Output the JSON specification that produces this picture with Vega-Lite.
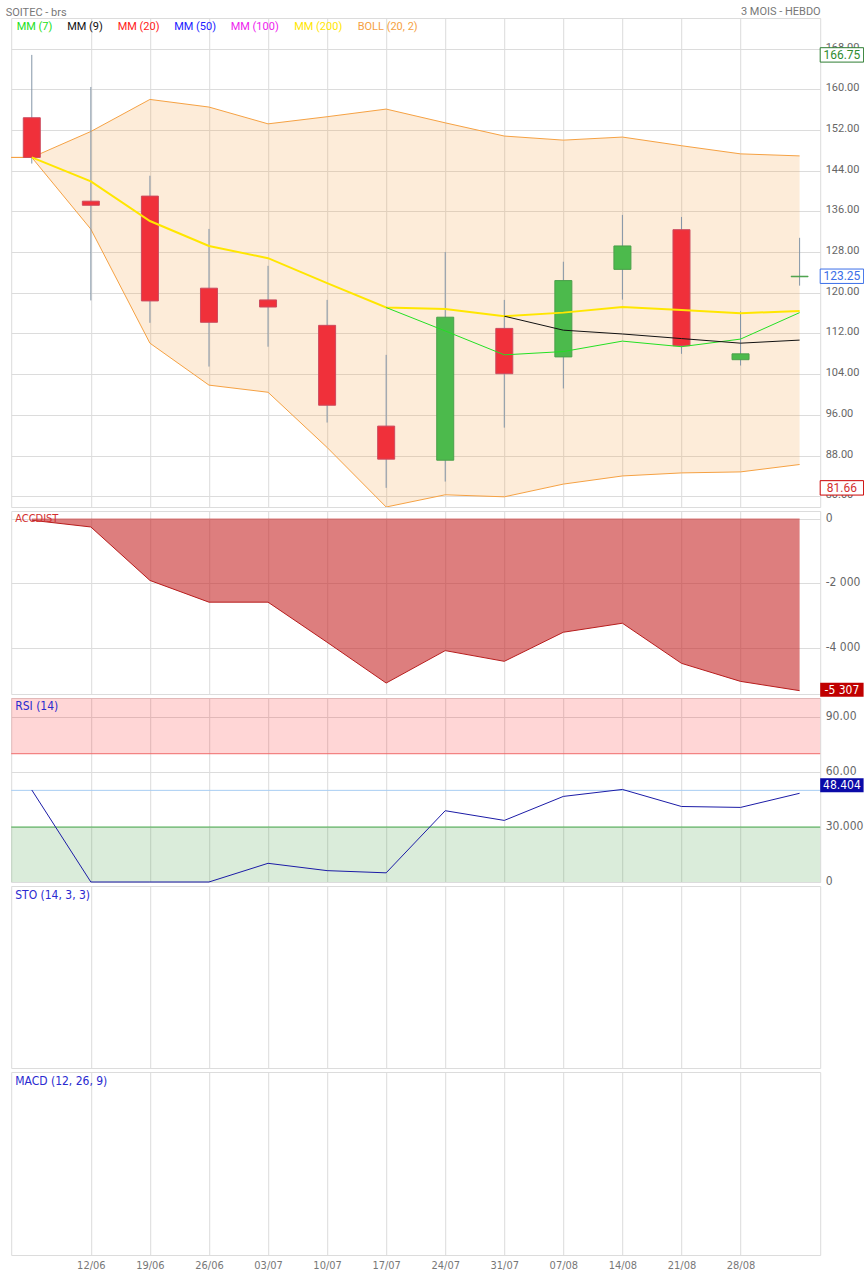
{
  "$schema": "https://vega.github.io/schema/vega-lite/v6.json",
  "background": "white",
  "padding": {"left": 5.2, "top": 4, "right": 0, "bottom": 0},
  "bounds": "flush",
  "title": {"text": "SOITEC - brs", "anchor": "start", "font": "Roboto", "fontSize": 11, "fontWeight": "normal", "color": "#777", "offset": -13},
  "spacing": 4,
  "config": {
    "view": {"stroke": "#dcdcdc"},
    "scale": {"continuousPadding": 0},
    "axis": {"gridColor": "#dcdcdc", "labelColor": "#666", "labelFont": "Roboto", "labelFontSize": 11, "ticks": false, "domain": false, "titleFont": "Roboto"}
  },
  "datasets": {
    "candles": [
      {"date": "2023-06-05", "open": 154.4, "high": 166.75, "low": 145.4, "close": 146.6},
      {"date": "2023-06-12", "open": 138.0, "high": 160.45, "low": 118.5, "close": 137.2},
      {"date": "2023-06-19", "open": 139.0, "high": 143.0, "low": 114.1, "close": 118.4},
      {"date": "2023-06-26", "open": 120.9, "high": 132.55, "low": 105.5, "close": 114.2},
      {"date": "2023-07-03", "open": 118.6, "high": 125.3, "low": 109.4, "close": 117.2},
      {"date": "2023-07-10", "open": 113.6, "high": 118.6, "low": 94.5, "close": 97.9},
      {"date": "2023-07-17", "open": 93.8, "high": 107.8, "low": 81.66, "close": 87.3},
      {"date": "2023-07-24", "open": 87.1, "high": 128.0, "low": 82.9, "close": 115.2},
      {"date": "2023-07-31", "open": 113.0, "high": 118.6, "low": 93.5, "close": 104.1},
      {"date": "2023-08-07", "open": 107.4, "high": 126.1, "low": 101.2, "close": 122.4},
      {"date": "2023-08-14", "open": 124.6, "high": 135.3, "low": 118.65, "close": 129.2},
      {"date": "2023-08-21", "open": 132.4, "high": 134.9, "low": 108.0, "close": 109.6},
      {"date": "2023-08-28", "open": 106.85, "high": 116.35, "low": 105.7, "close": 108.0},
      {"date": "2023-09-04", "open": 123.15, "high": 130.8, "low": 121.4, "close": 123.25}
    ],
    "band": [
      {"date": "2023-05-29", "upper": 146.6, "lower": 146.6},
      {"date": "2023-06-05", "upper": 146.6, "lower": 146.6},
      {"date": "2023-06-12", "upper": 151.7, "lower": 132.5},
      {"date": "2023-06-19", "upper": 158.0, "lower": 110.1},
      {"date": "2023-06-26", "upper": 156.5, "lower": 101.85},
      {"date": "2023-07-03", "upper": 153.2, "lower": 100.45},
      {"date": "2023-07-10", "upper": 154.6, "lower": 89.6},
      {"date": "2023-07-17", "upper": 156.1, "lower": 77.9},
      {"date": "2023-07-24", "upper": 153.4, "lower": 80.3},
      {"date": "2023-07-31", "upper": 150.8, "lower": 79.9},
      {"date": "2023-08-07", "upper": 150.0, "lower": 82.4},
      {"date": "2023-08-14", "upper": 150.6, "lower": 84.0},
      {"date": "2023-08-21", "upper": 148.9, "lower": 84.6},
      {"date": "2023-08-28", "upper": 147.3, "lower": 84.8},
      {"date": "2023-09-04", "upper": 146.9, "lower": 86.25}
    ],
    "ma": [
      {"date": "2023-06-05", "series": "MM (200)", "value": 146.6},
      {"date": "2023-06-12", "series": "MM (200)", "value": 141.9},
      {"date": "2023-06-19", "series": "MM (200)", "value": 134.1},
      {"date": "2023-06-26", "series": "MM (200)", "value": 129.2},
      {"date": "2023-07-03", "series": "MM (200)", "value": 126.8},
      {"date": "2023-07-10", "series": "MM (200)", "value": 121.9},
      {"date": "2023-07-17", "series": "MM (200)", "value": 117.1},
      {"date": "2023-07-24", "series": "MM (200)", "value": 116.8},
      {"date": "2023-07-31", "series": "MM (200)", "value": 115.4},
      {"date": "2023-08-07", "series": "MM (200)", "value": 116.1},
      {"date": "2023-08-14", "series": "MM (200)", "value": 117.2},
      {"date": "2023-08-21", "series": "MM (200)", "value": 116.6},
      {"date": "2023-08-28", "series": "MM (200)", "value": 116.0},
      {"date": "2023-09-04", "series": "MM (200)", "value": 116.4},
      {"date": "2023-07-17", "series": "MM (7)", "value": 117.1},
      {"date": "2023-07-24", "series": "MM (7)", "value": 112.5},
      {"date": "2023-07-31", "series": "MM (7)", "value": 107.8},
      {"date": "2023-08-07", "series": "MM (7)", "value": 108.45},
      {"date": "2023-08-14", "series": "MM (7)", "value": 110.5},
      {"date": "2023-08-21", "series": "MM (7)", "value": 109.4},
      {"date": "2023-08-28", "series": "MM (7)", "value": 110.9},
      {"date": "2023-09-04", "series": "MM (7)", "value": 116.1},
      {"date": "2023-07-31", "series": "MM (9)", "value": 115.4},
      {"date": "2023-08-07", "series": "MM (9)", "value": 112.65},
      {"date": "2023-08-14", "series": "MM (9)", "value": 111.9},
      {"date": "2023-08-21", "series": "MM (9)", "value": 111.0},
      {"date": "2023-08-28", "series": "MM (9)", "value": 110.1},
      {"date": "2023-09-04", "series": "MM (9)", "value": 110.7}
    ],
    "mainLabels": [
      {"value": 166.75, "label": "166.75", "kind": "high"},
      {"value": 123.25, "label": "123.25", "kind": "last"},
      {"value": 81.66, "label": "81.66", "kind": "low"}
    ],
    "acc": [
      {"date": "2023-06-05", "acc": -50},
      {"date": "2023-06-12", "acc": -258},
      {"date": "2023-06-19", "acc": -1907},
      {"date": "2023-06-26", "acc": -2577},
      {"date": "2023-07-03", "acc": -2577},
      {"date": "2023-07-10", "acc": -3814},
      {"date": "2023-07-17", "acc": -5072},
      {"date": "2023-07-24", "acc": -4072},
      {"date": "2023-07-31", "acc": -4402},
      {"date": "2023-08-07", "acc": -3505},
      {"date": "2023-08-14", "acc": -3227},
      {"date": "2023-08-21", "acc": -4464},
      {"date": "2023-08-28", "acc": -5021},
      {"date": "2023-09-04", "acc": -5307}
    ],
    "accLabel": [{"value": -5307, "label": "-5 307"}],
    "rsi": [
      {"date": "2023-06-05", "rsi": 50.2},
      {"date": "2023-06-12", "rsi": 0},
      {"date": "2023-06-19", "rsi": 0},
      {"date": "2023-06-26", "rsi": 0},
      {"date": "2023-07-03", "rsi": 10.2},
      {"date": "2023-07-10", "rsi": 6.2},
      {"date": "2023-07-17", "rsi": 5.0},
      {"date": "2023-07-24", "rsi": 38.9},
      {"date": "2023-07-31", "rsi": 33.6},
      {"date": "2023-08-07", "rsi": 46.7},
      {"date": "2023-08-14", "rsi": 50.5},
      {"date": "2023-08-21", "rsi": 41.2},
      {"date": "2023-08-28", "rsi": 40.7},
      {"date": "2023-09-04", "rsi": 48.404}
    ],
    "rsiLabel": [{"value": 48.404, "label": "48.404"}],
    "rsiZones": [
      {"zone": "overbought", "lo": 70, "hi": 100.4},
      {"zone": "oversold", "lo": 0, "hi": 30}
    ],
    "rsiLevels": [
      {"level": 70, "kind": "overbought"},
      {"level": 30, "kind": "oversold"},
      {"level": 50, "kind": "mid"}
    ],
    "empty": []
  },
  "vconcat": [
    {
      "width": 809,
      "height": 489,
      "layer": [
        {
          "data": {"name": "band"},
          "mark": {"type": "area", "color": "#f5a142", "opacity": 0.2, "clip": true},
          "encoding": {
            "x": {"field": "date", "type": "temporal", "scale": {"type": "utc", "padding": 0, "domain": [{"year": 2023, "month": 6, "date": 2, "hours": 13, "minutes": 26, "utc": true}, {"year": 2023, "month": 9, "date": 6, "hours": 10, "minutes": 34, "utc": true}]},
              "axis": {"orient": "top", "values": [{"year": 2023, "month": 6, "date": 12, "utc": true}, {"year": 2023, "month": 6, "date": 19, "utc": true}, {"year": 2023, "month": 6, "date": 26, "utc": true}, {"year": 2023, "month": 7, "date": 3, "utc": true}, {"year": 2023, "month": 7, "date": 10, "utc": true}, {"year": 2023, "month": 7, "date": 17, "utc": true}, {"year": 2023, "month": 7, "date": 24, "utc": true}, {"year": 2023, "month": 7, "date": 31, "utc": true}, {"year": 2023, "month": 8, "date": 7, "utc": true}, {"year": 2023, "month": 8, "date": 14, "utc": true}, {"year": 2023, "month": 8, "date": 21, "utc": true}, {"year": 2023, "month": 8, "date": 28, "utc": true}],
                "labels": false, "grid": true, "title": "3 MOIS - HEBDO", "titleAnchor": "end", "titleFontSize": 11, "titleFontWeight": "normal", "titleColor": "#777", "titlePadding": 2}},
            "y": {"field": "upper", "type": "quantitative", "scale": {"domain": [77.9, 174.0], "nice": false, "zero": false},
              "axis": {"orient": "right", "values": [80, 88, 96, 104, 112, 120, 128, 136, 144, 152, 160, 168], "format": ".2f", "grid": true, "labelPadding": 5, "labelOffset": -1.5, "title": null}},
            "y2": {"field": "lower"}
          }
        },
        {
          "data": {"name": "band"},
          "mark": {"type": "line", "color": "#f5a142", "strokeWidth": 1, "clip": true},
          "encoding": {
            "x": {"field": "date", "type": "temporal", "scale": {"type": "utc", "padding": 0, "domain": [{"year": 2023, "month": 6, "date": 2, "hours": 13, "minutes": 26, "utc": true}, {"year": 2023, "month": 9, "date": 6, "hours": 10, "minutes": 34, "utc": true}]}},
            "y": {"field": "upper", "type": "quantitative", "scale": {"domain": [77.9, 174.0], "nice": false, "zero": false}}
          }
        },
        {
          "data": {"name": "band"},
          "mark": {"type": "line", "color": "#f5a142", "strokeWidth": 1, "clip": true},
          "encoding": {
            "x": {"field": "date", "type": "temporal", "scale": {"type": "utc", "padding": 0, "domain": [{"year": 2023, "month": 6, "date": 2, "hours": 13, "minutes": 26, "utc": true}, {"year": 2023, "month": 9, "date": 6, "hours": 10, "minutes": 34, "utc": true}]}},
            "y": {"field": "lower", "type": "quantitative", "scale": {"domain": [77.9, 174.0], "nice": false, "zero": false}}
          }
        },
        {
          "data": {"name": "candles"},
          "mark": {"type": "rule", "color": "#8395a7", "strokeWidth": 1},
          "encoding": {
            "x": {"field": "date", "type": "temporal", "scale": {"type": "utc", "padding": 0, "domain": [{"year": 2023, "month": 6, "date": 2, "hours": 13, "minutes": 26, "utc": true}, {"year": 2023, "month": 9, "date": 6, "hours": 10, "minutes": 34, "utc": true}]}},
            "y": {"field": "low", "type": "quantitative", "scale": {"domain": [77.9, 174.0], "nice": false, "zero": false}},
            "y2": {"field": "high"}
          }
        },
        {
          "data": {"name": "candles"},
          "mark": {"type": "bar", "width": 17, "strokeWidth": 1},
          "encoding": {
            "x": {"field": "date", "type": "temporal", "scale": {"type": "utc", "padding": 0, "domain": [{"year": 2023, "month": 6, "date": 2, "hours": 13, "minutes": 26, "utc": true}, {"year": 2023, "month": 9, "date": 6, "hours": 10, "minutes": 34, "utc": true}]}},
            "y": {"field": "open", "type": "quantitative", "scale": {"domain": [77.9, 174.0], "nice": false, "zero": false}},
            "y2": {"field": "close"},
            "fill": {"condition": {"test": "datum.close >= datum.open", "value": "#4cba4c"}, "value": "#f0303a"},
            "stroke": {"condition": {"test": "datum.close >= datum.open", "value": "#4aa04a"}, "value": "#cc4a5e"}
          }
        },
        {
          "data": {"name": "ma"},
          "mark": {"type": "line", "clip": true},
          "encoding": {
            "x": {"field": "date", "type": "temporal", "scale": {"type": "utc", "padding": 0, "domain": [{"year": 2023, "month": 6, "date": 2, "hours": 13, "minutes": 26, "utc": true}, {"year": 2023, "month": 9, "date": 6, "hours": 10, "minutes": 34, "utc": true}]}},
            "y": {"field": "value", "type": "quantitative", "scale": {"domain": [77.9, 174.0], "nice": false, "zero": false}},
            "color": {"field": "series", "type": "nominal",
              "scale": {"domain": ["MM (7)", "MM (9)", "MM (20)", "MM (50)", "MM (100)", "MM (200)", "BOLL (20, 2)"], "range": ["#22e022", "#111111", "#ff2020", "#2020ff", "#ee22ee", "#ffe600", "#f5a142"]},
              "legend": {"orient": "none", "legendX": -5.5, "legendY": 3, "direction": "horizontal", "title": null, "symbolSize": 0, "symbolStrokeWidth": 0, "symbolOpacity": 0, "labelOffset": 0, "columnPadding": 3.5, "labelFont": "Roboto", "labelFontSize": 11,
                "encode": {"labels": {"update": {"fill": {"scale": "color", "field": "value"}}}}}},
            "strokeWidth": {"condition": {"test": "datum.series === 'MM (200)'", "value": 2}, "value": 1}
          }
        },
        {
          "data": {"name": "mainLabels"},
          "mark": {"type": "rect", "fill": "white", "strokeWidth": 1, "xOffset": 20.6, "x2Offset": 64, "yOffset": -7.2, "y2Offset": 7.2},
          "encoding": {
            "x": {"datum": {"year": 2023, "month": 9, "date": 4, "utc": true}, "type": "temporal", "scale": {"type": "utc", "padding": 0, "domain": [{"year": 2023, "month": 6, "date": 2, "hours": 13, "minutes": 26, "utc": true}, {"year": 2023, "month": 9, "date": 6, "hours": 10, "minutes": 34, "utc": true}]}},
            "x2": {"datum": {"year": 2023, "month": 9, "date": 4, "utc": true}},
            "y": {"field": "value", "type": "quantitative", "scale": {"domain": [77.9, 174.0], "nice": false, "zero": false}},
            "y2": {"field": "value"},
            "stroke": {"condition": [{"test": "datum.kind === 'high'", "value": "#2e7d32"}, {"test": "datum.kind === 'last'", "value": "#3a6ee8"}], "value": "#cc0000"}
          }
        },
        {
          "data": {"name": "mainLabels"},
          "mark": {"type": "text", "dx": 42.3, "align": "center", "baseline": "middle", "font": "Roboto", "fontSize": 12},
          "encoding": {
            "x": {"datum": {"year": 2023, "month": 9, "date": 4, "utc": true}, "type": "temporal", "scale": {"type": "utc", "padding": 0, "domain": [{"year": 2023, "month": 6, "date": 2, "hours": 13, "minutes": 26, "utc": true}, {"year": 2023, "month": 9, "date": 6, "hours": 10, "minutes": 34, "utc": true}]}},
            "y": {"field": "value", "type": "quantitative", "scale": {"domain": [77.9, 174.0], "nice": false, "zero": false}},
            "text": {"field": "label"},
            "fill": {"condition": [{"test": "datum.kind === 'high'", "value": "#2e8b2e"}, {"test": "datum.kind === 'last'", "value": "#3a6ee8"}], "value": "#d32f2f"}
          }
        }
      ]
    },
    {
      "width": 809,
      "height": 183,
      "title": {"text": "ACCDIST", "anchor": "start", "frame": "group", "orient": "top", "offset": -13, "baseline": "top", "dx": 4, "color": "#d32f2f", "fontSize": 11, "fontWeight": "normal", "font": "Liberation Sans Narrow, DejaVu Sans Condensed, Roboto"},
      "layer": [
        {
          "data": {"name": "acc"},
          "mark": {"type": "area", "fill": "#c62828", "fillOpacity": 0.6, "line": {"color": "#b71c1c", "strokeWidth": 1}},
          "encoding": {
            "x": {"field": "date", "type": "temporal", "scale": {"type": "utc", "domain": [{"year": 2023, "month": 6, "date": 2, "hours": 13, "minutes": 26, "utc": true}, {"year": 2023, "month": 9, "date": 6, "hours": 10, "minutes": 34, "utc": true}]},
              "axis": {"values": [{"year": 2023, "month": 6, "date": 12, "utc": true}, {"year": 2023, "month": 6, "date": 19, "utc": true}, {"year": 2023, "month": 6, "date": 26, "utc": true}, {"year": 2023, "month": 7, "date": 3, "utc": true}, {"year": 2023, "month": 7, "date": 10, "utc": true}, {"year": 2023, "month": 7, "date": 17, "utc": true}, {"year": 2023, "month": 7, "date": 24, "utc": true}, {"year": 2023, "month": 7, "date": 31, "utc": true}, {"year": 2023, "month": 8, "date": 7, "utc": true}, {"year": 2023, "month": 8, "date": 14, "utc": true}, {"year": 2023, "month": 8, "date": 21, "utc": true}, {"year": 2023, "month": 8, "date": 28, "utc": true}], "labels": false, "grid": true, "title": null}},
            "y": {"field": "acc", "type": "quantitative", "scale": {"domain": [-5410, 235], "nice": false, "zero": false},
              "axis": {"orient": "right", "values": [0, -2000, -4000], "labelExpr": "datum.value === 0 ? '0' : datum.value === -2000 ? '-2 000' : '-4 000'", "grid": true, "labelPadding": 5, "labelOffset": -1.5, "labelFont": "Liberation Sans Narrow, DejaVu Sans Condensed, Roboto", "labelFontSize": 12, "title": null}},
            "y2": {"datum": 0}
          }
        },
        {
          "data": {"name": "accLabel"},
          "mark": {"type": "rect", "fill": "#c00000", "xOffset": 20.6, "x2Offset": 64, "yOffset": -8, "y2Offset": 6},
          "encoding": {
            "x": {"datum": {"year": 2023, "month": 9, "date": 4, "utc": true}, "type": "temporal", "scale": {"type": "utc", "domain": [{"year": 2023, "month": 6, "date": 2, "hours": 13, "minutes": 26, "utc": true}, {"year": 2023, "month": 9, "date": 6, "hours": 10, "minutes": 34, "utc": true}]}},
            "x2": {"datum": {"year": 2023, "month": 9, "date": 4, "utc": true}},
            "y": {"field": "value", "type": "quantitative", "scale": {"domain": [-5410, 235], "nice": false, "zero": false}},
            "y2": {"field": "value"}
          }
        },
        {
          "data": {"name": "accLabel"},
          "mark": {"type": "text", "dx": 42.3, "dy": -1, "align": "center", "baseline": "middle", "font": "Liberation Sans Narrow, DejaVu Sans Condensed, Roboto", "fontSize": 12, "color": "white"},
          "encoding": {
            "x": {"datum": {"year": 2023, "month": 9, "date": 4, "utc": true}, "type": "temporal", "scale": {"type": "utc", "domain": [{"year": 2023, "month": 6, "date": 2, "hours": 13, "minutes": 26, "utc": true}, {"year": 2023, "month": 9, "date": 6, "hours": 10, "minutes": 34, "utc": true}]}},
            "y": {"field": "value", "type": "quantitative", "scale": {"domain": [-5410, 235], "nice": false, "zero": false}},
            "text": {"field": "label"}
          }
        }
      ]
    },
    {
      "width": 809,
      "height": 184,
      "title": {"text": "RSI (14)", "anchor": "start", "frame": "group", "orient": "top", "offset": -15, "baseline": "top", "dx": 4, "color": "#2a2ad0", "fontSize": 12, "fontWeight": "normal", "font": "Liberation Sans Narrow, DejaVu Sans Condensed, Roboto"},
      "layer": [
        {
          "data": {"name": "rsiZones"},
          "mark": {"type": "rect", "opacity": 1},
          "encoding": {
            "x": {"value": 0},
            "x2": {"value": "width"},
            "y": {"field": "lo", "type": "quantitative", "scale": {"domain": [0, 100.4], "nice": false, "zero": false}},
            "y2": {"field": "hi"},
            "fill": {"condition": {"test": "datum.zone === 'overbought'", "value": "#ff0000"}, "value": "#3a9a3a"},
            "fillOpacity": {"condition": {"test": "datum.zone === 'overbought'", "value": 0.16}, "value": 0.19}
          }
        },
        {
          "data": {"name": "rsiLevels"},
          "mark": {"type": "rule", "strokeWidth": 1},
          "encoding": {
            "y": {"field": "level", "type": "quantitative", "scale": {"domain": [0, 100.4], "nice": false, "zero": false}},
            "stroke": {"condition": [{"test": "datum.kind === 'overbought'", "value": "#f06a6a"}, {"test": "datum.kind === 'oversold'", "value": "#4caf50"}], "value": "#a8cdf2"}
          }
        },
        {
          "data": {"name": "rsi"},
          "mark": {"type": "line", "color": "#1a1aa6", "strokeWidth": 1},
          "encoding": {
            "x": {"field": "date", "type": "temporal", "scale": {"type": "utc", "domain": [{"year": 2023, "month": 6, "date": 2, "hours": 13, "minutes": 26, "utc": true}, {"year": 2023, "month": 9, "date": 6, "hours": 10, "minutes": 34, "utc": true}]},
              "axis": {"values": [{"year": 2023, "month": 6, "date": 12, "utc": true}, {"year": 2023, "month": 6, "date": 19, "utc": true}, {"year": 2023, "month": 6, "date": 26, "utc": true}, {"year": 2023, "month": 7, "date": 3, "utc": true}, {"year": 2023, "month": 7, "date": 10, "utc": true}, {"year": 2023, "month": 7, "date": 17, "utc": true}, {"year": 2023, "month": 7, "date": 24, "utc": true}, {"year": 2023, "month": 7, "date": 31, "utc": true}, {"year": 2023, "month": 8, "date": 7, "utc": true}, {"year": 2023, "month": 8, "date": 14, "utc": true}, {"year": 2023, "month": 8, "date": 21, "utc": true}, {"year": 2023, "month": 8, "date": 28, "utc": true}], "labels": false, "grid": true, "title": null}},
            "y": {"field": "rsi", "type": "quantitative", "scale": {"domain": [0, 100.4], "nice": false, "zero": false},
              "axis": {"orient": "right", "values": [0, 30, 60, 90], "labelExpr": "datum.value === 90 ? '90.00' : datum.value === 60 ? '60.00' : datum.value === 30 ? '30.000' : '0'", "grid": true, "labelPadding": 5, "labelOffset": -1.5, "labelFont": "Liberation Sans Narrow, DejaVu Sans Condensed, Roboto", "labelFontSize": 12, "title": null}}
          }
        },
        {
          "data": {"name": "rsiLabel"},
          "mark": {"type": "rect", "fill": "#0a0aa8", "xOffset": 20.6, "x2Offset": 64, "yOffset": -15, "y2Offset": -1},
          "encoding": {
            "x": {"datum": {"year": 2023, "month": 9, "date": 4, "utc": true}, "type": "temporal", "scale": {"type": "utc", "domain": [{"year": 2023, "month": 6, "date": 2, "hours": 13, "minutes": 26, "utc": true}, {"year": 2023, "month": 9, "date": 6, "hours": 10, "minutes": 34, "utc": true}]}},
            "x2": {"datum": {"year": 2023, "month": 9, "date": 4, "utc": true}},
            "y": {"field": "value", "type": "quantitative", "scale": {"domain": [0, 100.4], "nice": false, "zero": false}},
            "y2": {"field": "value"}
          }
        },
        {
          "data": {"name": "rsiLabel"},
          "mark": {"type": "text", "dx": 42.3, "dy": -8, "align": "center", "baseline": "middle", "font": "Liberation Sans Narrow, DejaVu Sans Condensed, Roboto", "fontSize": 12, "color": "white"},
          "encoding": {
            "x": {"datum": {"year": 2023, "month": 9, "date": 4, "utc": true}, "type": "temporal", "scale": {"type": "utc", "domain": [{"year": 2023, "month": 6, "date": 2, "hours": 13, "minutes": 26, "utc": true}, {"year": 2023, "month": 9, "date": 6, "hours": 10, "minutes": 34, "utc": true}]}},
            "y": {"field": "value", "type": "quantitative", "scale": {"domain": [0, 100.4], "nice": false, "zero": false}},
            "text": {"field": "label"}
          }
        }
      ]
    },
    {
      "width": 809,
      "height": 182,
      "title": {"text": "STO (14, 3, 3)", "anchor": "start", "frame": "group", "orient": "top", "offset": -16, "baseline": "top", "dx": 4, "color": "#2a2ad0", "fontSize": 12, "fontWeight": "normal", "font": "Liberation Sans Narrow, DejaVu Sans Condensed, Roboto"},
      "data": {"name": "empty"},
      "mark": "point",
      "encoding": {
        "x": {"field": "date", "type": "temporal", "scale": {"type": "utc", "domain": [{"year": 2023, "month": 6, "date": 2, "hours": 13, "minutes": 26, "utc": true}, {"year": 2023, "month": 9, "date": 6, "hours": 10, "minutes": 34, "utc": true}]},
          "axis": {"values": [{"year": 2023, "month": 6, "date": 12, "utc": true}, {"year": 2023, "month": 6, "date": 19, "utc": true}, {"year": 2023, "month": 6, "date": 26, "utc": true}, {"year": 2023, "month": 7, "date": 3, "utc": true}, {"year": 2023, "month": 7, "date": 10, "utc": true}, {"year": 2023, "month": 7, "date": 17, "utc": true}, {"year": 2023, "month": 7, "date": 24, "utc": true}, {"year": 2023, "month": 7, "date": 31, "utc": true}, {"year": 2023, "month": 8, "date": 7, "utc": true}, {"year": 2023, "month": 8, "date": 14, "utc": true}, {"year": 2023, "month": 8, "date": 21, "utc": true}, {"year": 2023, "month": 8, "date": 28, "utc": true}], "labels": false, "grid": true, "title": null}}
      }
    },
    {
      "width": 809,
      "height": 183,
      "title": {"text": "MACD (12, 26, 9)", "anchor": "start", "frame": "group", "orient": "top", "offset": -16, "baseline": "top", "dx": 4, "color": "#2a2ad0", "fontSize": 12, "fontWeight": "normal", "font": "Liberation Sans Narrow, DejaVu Sans Condensed, Roboto"},
      "data": {"name": "empty"},
      "mark": "point",
      "encoding": {
        "x": {"field": "date", "type": "temporal", "scale": {"type": "utc", "domain": [{"year": 2023, "month": 6, "date": 2, "hours": 13, "minutes": 26, "utc": true}, {"year": 2023, "month": 9, "date": 6, "hours": 10, "minutes": 34, "utc": true}]},
          "axis": {"values": [{"year": 2023, "month": 6, "date": 12, "utc": true}, {"year": 2023, "month": 6, "date": 19, "utc": true}, {"year": 2023, "month": 6, "date": 26, "utc": true}, {"year": 2023, "month": 7, "date": 3, "utc": true}, {"year": 2023, "month": 7, "date": 10, "utc": true}, {"year": 2023, "month": 7, "date": 17, "utc": true}, {"year": 2023, "month": 7, "date": 24, "utc": true}, {"year": 2023, "month": 7, "date": 31, "utc": true}, {"year": 2023, "month": 8, "date": 7, "utc": true}, {"year": 2023, "month": 8, "date": 14, "utc": true}, {"year": 2023, "month": 8, "date": 21, "utc": true}, {"year": 2023, "month": 8, "date": 28, "utc": true}], "format": "%d/%m", "labels": true, "grid": true, "title": null, "labelPadding": 5, "labelColor": "#777", "labelFont": "Liberation Sans Narrow, DejaVu Sans Condensed, Roboto", "labelFontSize": 11}}
      }
    }
  ]
}
